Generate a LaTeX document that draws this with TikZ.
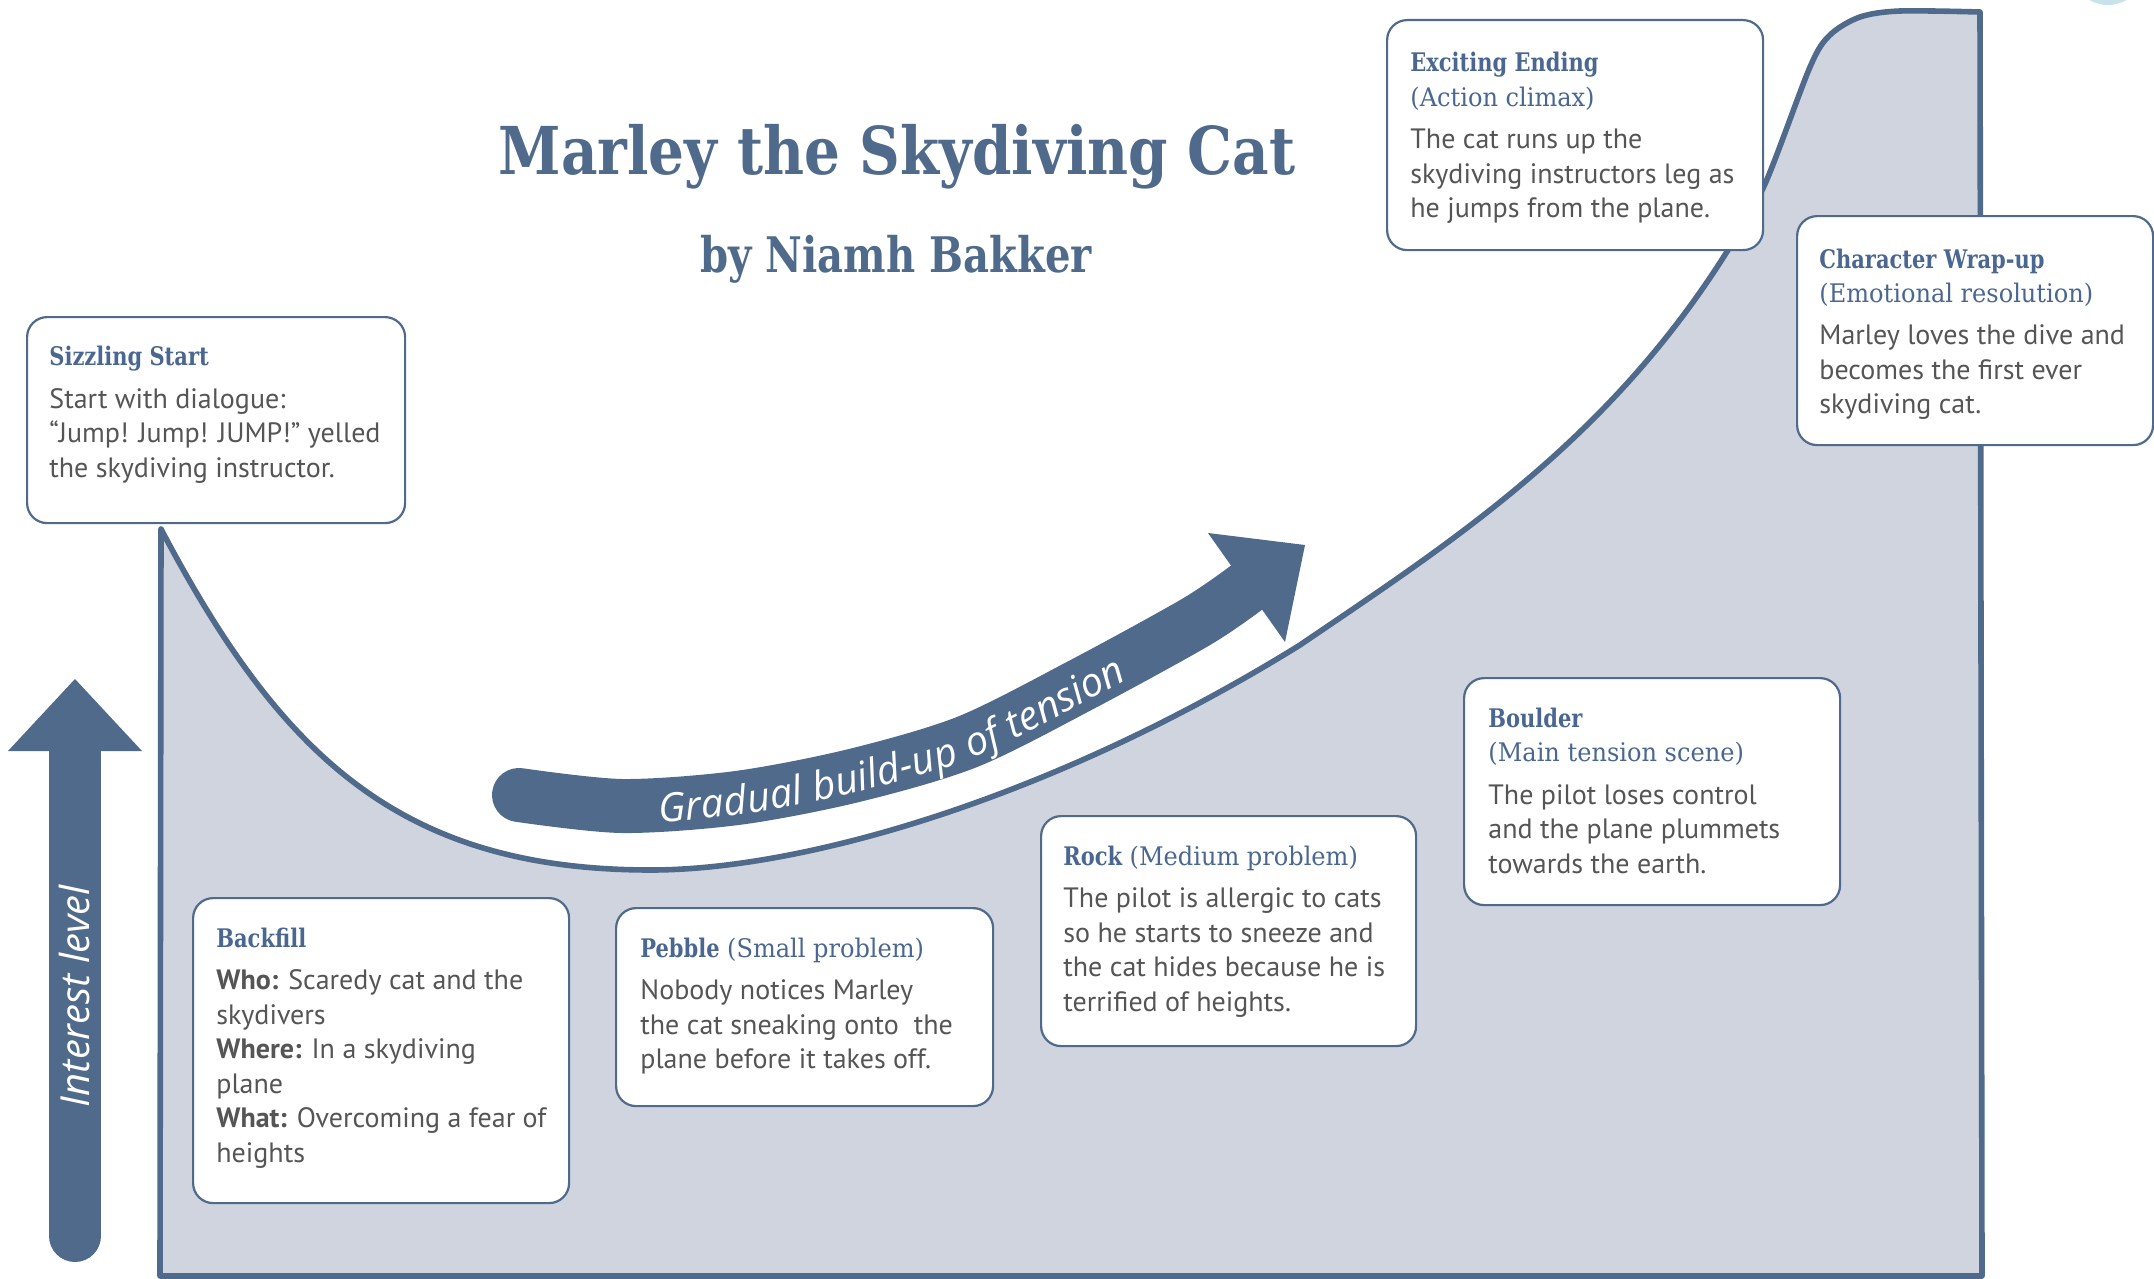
\documentclass[tikz,border=0pt]{standalone}
\usepackage{fontspec}
\usetikzlibrary{decorations.text}
\setmainfont{PT Sans}
\newfontfamily\slab{DejaVu Serif}[FakeStretch=0.82]
\newfontfamily\slabsub{DejaVu Serif}[FakeStretch=0.94]
\newfontfamily\slabtitle{DejaVu Serif}[FakeStretch=0.855]
\newfontfamily\quick{Open Sans}
\definecolor{navy}{HTML}{4F6A8B}
\definecolor{headc}{HTML}{4A6791}
\definecolor{areac}{HTML}{CFD4DF}
\definecolor{bodyc}{HTML}{555555}
\definecolor{dotc}{HTML}{C8E3EA}
\newcommand\mkhead[1]{{\slab\bfseries\fontsize{12.8}{17.25}\selectfont\color{headc}#1}}
\newcommand\mksub[1]{{\slabsub\fontsize{12.8}{17.25}\selectfont\color{headc}#1}}
\newcommand\bodyfont{\fontsize{14}{17.25}\selectfont}
\begin{document}
\begin{tikzpicture}[x=0.5pt,y=-0.5pt,
  storybox/.style={draw=navy, line width=1.1pt, fill=white, rounded corners=10pt, anchor=north west, inner sep=0pt},
  storytext/.style={anchor=base west, inner sep=0pt, text=bodyc},
  outline/.style={draw=navy, line width=2.8pt, line join=round}]
\useasboundingbox (0,0) rectangle (2154,1279);
% decorative dot
\fill[dotc] (2108,-32) circle[radius=18.5pt];
% area under curve
\path[fill=areac, outline] (160,1276) -- (161,529)
  .. controls (281,757) and (401,870) .. (651,870)
  .. controls (801,870) and (1050,800) .. (1300,645)
  .. controls (1450,543) and (1608,442) .. (1728,250)
  -- plot[smooth] coordinates {(1728,250) (1765,184) (1810,67) (1830,35) (1860,17) (1900,11) (1980,12)} -- (1982,1276) -- cycle;
% gradual arrow
\draw[navy, line width=27pt, line cap=round] plot[smooth] coordinates {(519,795) (622,806) (737,798) (852,776) (967,742) (1081,685) (1196,622) (1246,588)};
\fill[navy] (1208,533) -- (1305,545) -- (1285,642) -- cycle;
\path[decorate, decoration={text along path, text={|\quick\itshape\fontsize{20}{24}\selectfont\color{white}|Gradual build-up of tension}, text align={left indent=70pt}, raise=-8.5pt}] plot[smooth] coordinates {(519,795) (622,806) (737,798) (852,776) (967,742) (1081,685) (1196,622) (1246,588)};
% interest arrow
\draw[navy, line width=26pt, line cap=round] (75,1236) -- (75,745);
\fill[navy] (8,751) -- (142,751) -- (75,679) -- cycle;
\node[rotate=90, anchor=base, inner sep=0pt, text=white, font=\quick\itshape\fontsize{20}{24}\selectfont] (interest) at (90,996) {Interest level};
% title
\node[anchor=base, inner sep=0pt, text=navy, font=\slabtitle\bfseries\fontsize{33}{40}\selectfont] (title) at (897,175) {Marley the Skydiving Cat};
\node[anchor=base, inner sep=0pt, text=navy, font=\slab\bfseries\fontsize{24.5}{29}\selectfont] (byline) at (896,272) {by Niamh Bakker};
% boxes
\node[storybox, minimum width=189pt, minimum height=103pt] (b1) at (26,316) {};
\node[storybox, minimum width=188pt, minimum height=115pt] (b2) at (1386,19) {};
\node[storybox, minimum width=178pt, minimum height=114.5pt] (b3) at (1796,215) {};
\node[storybox, minimum width=188pt, minimum height=152.5pt] (b4) at (192,897) {};
\node[storybox, minimum width=188.5pt, minimum height=99pt] (b5) at (615,907) {};
\node[storybox, minimum width=187.5pt, minimum height=115pt] (b6) at (1040,815) {};
\node[storybox, minimum width=188pt, minimum height=113.5pt] (b7) at (1463,677) {};
% texts
\node[storytext] (t1) at (49,365) {\parbox[t]{200pt}{\leavevmode\raggedright\bodyfont \mkhead{Sizzling Start}\\[4.25pt]Start with dialogue:\\“Jump! Jump! JUMP!” yelled\\the skydiving instructor.}};
\node[storytext] (t2) at (1410,72) {\parbox[t]{200pt}{\leavevmode\raggedright\bodyfont \mkhead{Exciting Ending}\\\mksub{(Action climax)}\\[4pt]The cat runs up the\\skydiving instructors leg as\\he jumps from the plane.}};
\node[storytext] (t3) at (1819,268) {\parbox[t]{200pt}{\leavevmode\raggedright\bodyfont \mkhead{Character Wrap-up}\\\mksub{(Emotional resolution)}\\[4pt]Marley loves the dive and\\becomes the first ever\\skydiving cat.}};
\node[storytext] (t4) at (216,947) {\parbox[t]{200pt}{\leavevmode\raggedright\bodyfont \mkhead{Backfill}\\[4pt]\textbf{Who:} Scaredy cat and the\\skydivers\\\textbf{Where:} In a skydiving\\plane\\\textbf{What:} Overcoming a fear of\\heights}};
\node[storytext] (t5) at (640,957) {\parbox[t]{200pt}{\leavevmode\raggedright\bodyfont \mkhead{Pebble} \mksub{(Small problem)}\\[4pt]Nobody notices Marley\\the cat sneaking onto\ \ the\\plane before it takes off.}};
\node[storytext] (t6) at (1063,865) {\parbox[t]{200pt}{\leavevmode\raggedright\bodyfont \mkhead{Rock} \mksub{(Medium problem)}\\[4pt]The pilot is allergic to cats\\so he starts to sneeze and\\the cat hides because he is\\terrified of heights.}};
\node[storytext] (t7) at (1488,727) {\parbox[t]{200pt}{\leavevmode\raggedright\bodyfont \mkhead{Boulder}\\\mksub{(Main tension scene)}\\[4pt]The pilot loses control\\and the plane plummets\\towards the earth.}};
\end{tikzpicture}
\end{document}
